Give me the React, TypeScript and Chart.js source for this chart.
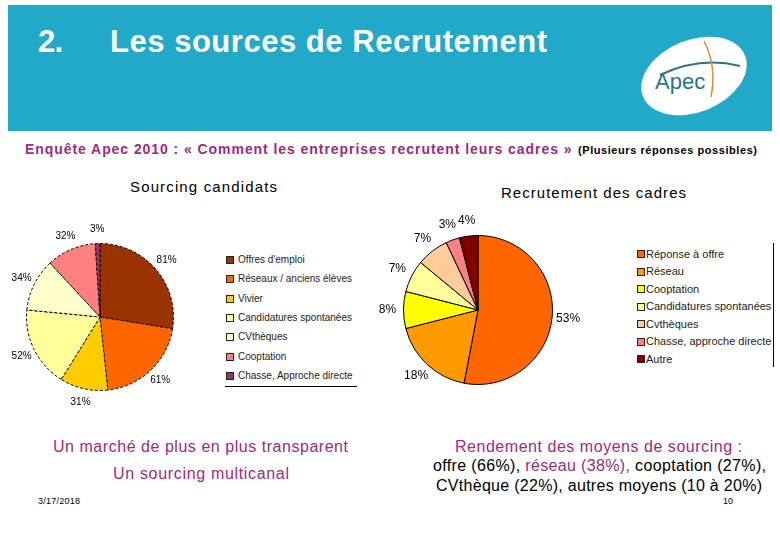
import React, { useEffect, useRef } from "react";
import { Chart, registerables } from "chart.js";

Chart.register(...registerables);

const FONT = '"Liberation Sans", Arial, Helvetica, sans-serif';
const PURPLE = "#A0297E";

// ---- Data: Sourcing candidats ----
const sourcingLabels = [
  "Offres d'emploi",
  "Réseaux / anciens élèves",
  "Vivier",
  "Candidatures spontanées",
  "CVthèques",
  "Cooptation",
  "Chasse, Approche directe",
];
const sourcingValues = [81, 61, 31, 52, 34, 32, 3];
const sourcingColors = ["#993300", "#FF6600", "#FFCC00", "#FFFF99", "#FFFFCC", "#FF8080", "#993366"];

// ---- Data: Recrutement des cadres ----
const recrutLabels = [
  "Réponse à offre",
  "Réseau",
  "Cooptation",
  "Candidatures spontanées",
  "Cvthèques",
  "Chasse, approche directe",
  "Autre",
];
const recrutValues = [53, 18, 8, 7, 7, 3, 4];
const recrutColors = ["#FF6600", "#FF9900", "#FFFF00", "#FFFF99", "#FFCC99", "#FF8080", "#800000"];

let measureCtx: CanvasRenderingContext2D | null = null;
function measure(text: string, font: string): number {
  if (!measureCtx) measureCtx = document.createElement("canvas").getContext("2d");
  measureCtx!.font = font;
  return measureCtx!.measureText(text).width;
}

type Seg = [string, string];
function FitText(props: {
  segs: Seg[];
  left: number;
  right?: number;
  baseline: number;
  size: number;
  weight?: string;
}) {
  const { segs, left, right, baseline, size } = props;
  const weight = props.weight || "normal";
  const text = segs.map((s) => s[0]).join("");
  const w = measure(text, `${weight} ${size}px ${FONT}`);
  const n = text.length;
  const ls = right !== undefined && n > 1 ? (right - left - w) / (n - 1) : 0;
  return (
    <div
      style={{
        position: "absolute",
        left,
        top: baseline - 0.8465 * size,
        fontFamily: FONT,
        fontSize: size,
        fontWeight: weight as any,
        lineHeight: `${size}px`,
        letterSpacing: `${ls}px`,
        whiteSpace: "nowrap",
      }}
    >
      {segs.map((s, i) => (
        <span key={i} style={{ color: s[1] }}>
          {s[0]}
        </span>
      ))}
    </div>
  );
}

function pctLabels(offset: number, fontSize: number) {
  return {
    id: "pctLabels",
    afterDatasetsDraw(chart: any) {
      const ctx = chart.ctx;
      const meta = chart.getDatasetMeta(0);
      const data = chart.data.datasets[0].data;
      ctx.save();
      ctx.font = `${fontSize}px ${FONT}`;
      ctx.fillStyle = "#000";
      ctx.textAlign = "center";
      ctx.textBaseline = "middle";
      meta.data.forEach((arc: any, i: number) => {
        const p = arc.getProps(["x", "y", "startAngle", "endAngle", "outerRadius"], true);
        const mid = (p.startAngle + p.endAngle) / 2;
        const r = p.outerRadius + offset;
        ctx.fillText(`${data[i]}%`, p.x + Math.cos(mid) * r, p.y + Math.sin(mid) * r);
      });
      ctx.restore();
    },
  };
}

function PieChart(props: {
  labels: string[];
  values: number[];
  colors: string[];
  dashed: boolean;
  left: number;
  top: number;
  width: number;
  height: number;
  padding: { left: number; right: number; top: number; bottom: number };
  labelOffset: number;
  labelFont: number;
}) {
  const ref = useRef<HTMLCanvasElement>(null);
  useEffect(() => {
    if (!ref.current) return;
    const chart = new Chart(ref.current, {
      type: "pie",
      data: {
        labels: props.labels,
        datasets: [
          {
            data: props.values,
            backgroundColor: props.colors,
            borderColor: "#000",
            borderWidth: 1,
            borderDash: props.dashed ? [3, 2] : [],
          } as any,
        ],
      },
      options: {
        responsive: false,
        animation: false,
        events: [],
        layout: { padding: props.padding },
        plugins: { legend: { display: false }, tooltip: { enabled: false } },
      },
      plugins: [pctLabels(props.labelOffset, props.labelFont)],
    });
    return () => chart.destroy();
  }, []);
  return (
    <canvas
      ref={ref}
      width={props.width}
      height={props.height}
      style={{ position: "absolute", left: props.left, top: props.top, width: props.width, height: props.height }}
    />
  );
}

function Legend(props: {
  labels: string[];
  colors: string[];
  boxLeft: number;
  textLeft: number;
  firstY: number;
  step: number;
  box: number;
  font: number;
}) {
  return (
    <>
      {props.labels.map((l, i) => {
        const cy = props.firstY + i * props.step;
        return (
          <React.Fragment key={i}>
            <div
              style={{
                position: "absolute",
                left: props.boxLeft,
                top: cy - props.box / 2,
                width: props.box - 2,
                height: props.box - 2,
                background: props.colors[i],
                border: "1px solid #222",
              }}
            />
            <div
              style={{
                position: "absolute",
                left: props.textLeft,
                top: cy - props.font / 2 - 1,
                fontFamily: FONT,
                fontSize: props.font,
                lineHeight: `${props.font + 2}px`,
                color: "#222",
                whiteSpace: "nowrap",
              }}
            >
              {l}
            </div>
          </React.Fragment>
        );
      })}
    </>
  );
}

export default function App() {
  return (
    <div
      style={{
        position: "absolute",
        left: 0,
        top: 0,
        width: 780,
        height: 540,
        background: "#fff",
        overflow: "hidden",
      }}
    >
      <svg width={780} height={140} style={{ position: "absolute", left: 0, top: 0 }}>
        <rect x={8} y={5} width={764} height={126} fill="#22A9C9" />
        <ellipse cx={694} cy={76} rx={55} ry={36} transform="rotate(-22 694 76)" fill="#fff" />
        <path d="M 660 75 Q 700 56 740 66" stroke="#2A7388" strokeWidth={2} fill="none" />
        <path d="M 704 41 Q 717 66 711 97" stroke="#E08A3C" strokeWidth={1.5} fill="none" />
        <text x={655} y={89} fontSize={22} fill="#2A7388" fontFamily={FONT}>
          Apec
        </text>
      </svg>

      <FitText segs={[["2.", "#fff"]]} left={38} right={63} baseline={52} size={31} weight="bold" />
      <FitText
        segs={[["Les sources de Recrutement", "#fff"]]}
        left={110}
        right={547}
        baseline={52}
        size={31}
        weight="bold"
      />

      <FitText
        segs={[["Enquête Apec 2010 : « Comment les entreprises recrutent leurs cadres »", PURPLE]]}
        left={25}
        right={572}
        baseline={154}
        size={14}
        weight="bold"
      />
      <FitText
        segs={[["(Plusieurs réponses possibles)", "#000"]]}
        left={578}
        right={757}
        baseline={154}
        size={11}
        weight="bold"
      />

      <FitText segs={[["Sourcing candidats", "#000"]]} left={130} right={277} baseline={192} size={15} />
      <FitText segs={[["Recrutement des cadres", "#000"]]} left={501} right={686} baseline={198} size={15} />

      <PieChart
        labels={sourcingLabels}
        values={sourcingValues}
        colors={sourcingColors}
        dashed={true}
        left={0}
        top={217}
        width={200}
        height={200}
        padding={{ left: 26, right: 26, top: 26, bottom: 26 }}
        labelOffset={14}
        labelFont={10}
      />
      <Legend
        labels={sourcingLabels}
        colors={sourcingColors}
        boxLeft={226}
        textLeft={238}
        firstY={260}
        step={19.3}
        box={8}
        font={10}
      />
      <div style={{ position: "absolute", left: 225, top: 386, width: 132, height: 1, background: "#000" }} />

      <PieChart
        labels={recrutLabels}
        values={recrutValues}
        colors={recrutColors}
        dashed={false}
        left={378}
        top={210}
        width={230}
        height={200}
        padding={{ left: 25, right: 55, top: 25, bottom: 25 }}
        labelOffset={16}
        labelFont={12}
      />
      <Legend
        labels={recrutLabels}
        colors={recrutColors}
        boxLeft={637}
        textLeft={646}
        firstY={254}
        step={17.5}
        box={8}
        font={11}
      />
      <div style={{ position: "absolute", left: 773, top: 243, width: 1, height: 124, background: "#000" }} />

      <FitText
        segs={[["Un marché de plus en plus transparent", PURPLE]]}
        left={53}
        right={348}
        baseline={453}
        size={16}
      />
      <FitText segs={[["Un sourcing multicanal", PURPLE]]} left={113} right={289} baseline={480} size={16} />
      <FitText segs={[["3/17/2018", "#000"]]} left={38} right={80} baseline={505} size={9} />

      <FitText
        segs={[["Rendement des moyens de sourcing :", PURPLE]]}
        left={455}
        right={742}
        baseline={453}
        size={16}
      />
      <FitText
        segs={[
          ["offre (66%), ", "#000"],
          ["réseau (38%), ", PURPLE],
          ["cooptation (27%),", "#000"],
        ]}
        left={433}
        right={766}
        baseline={472}
        size={16}
      />
      <FitText
        segs={[["CVthèque (22%), autres moyens (10 à 20%)", "#000"]]}
        left={436}
        right={762}
        baseline={492}
        size={16}
      />
      <FitText segs={[["10", "#000"]]} left={723} baseline={505} size={9} />
    </div>
  );
}
